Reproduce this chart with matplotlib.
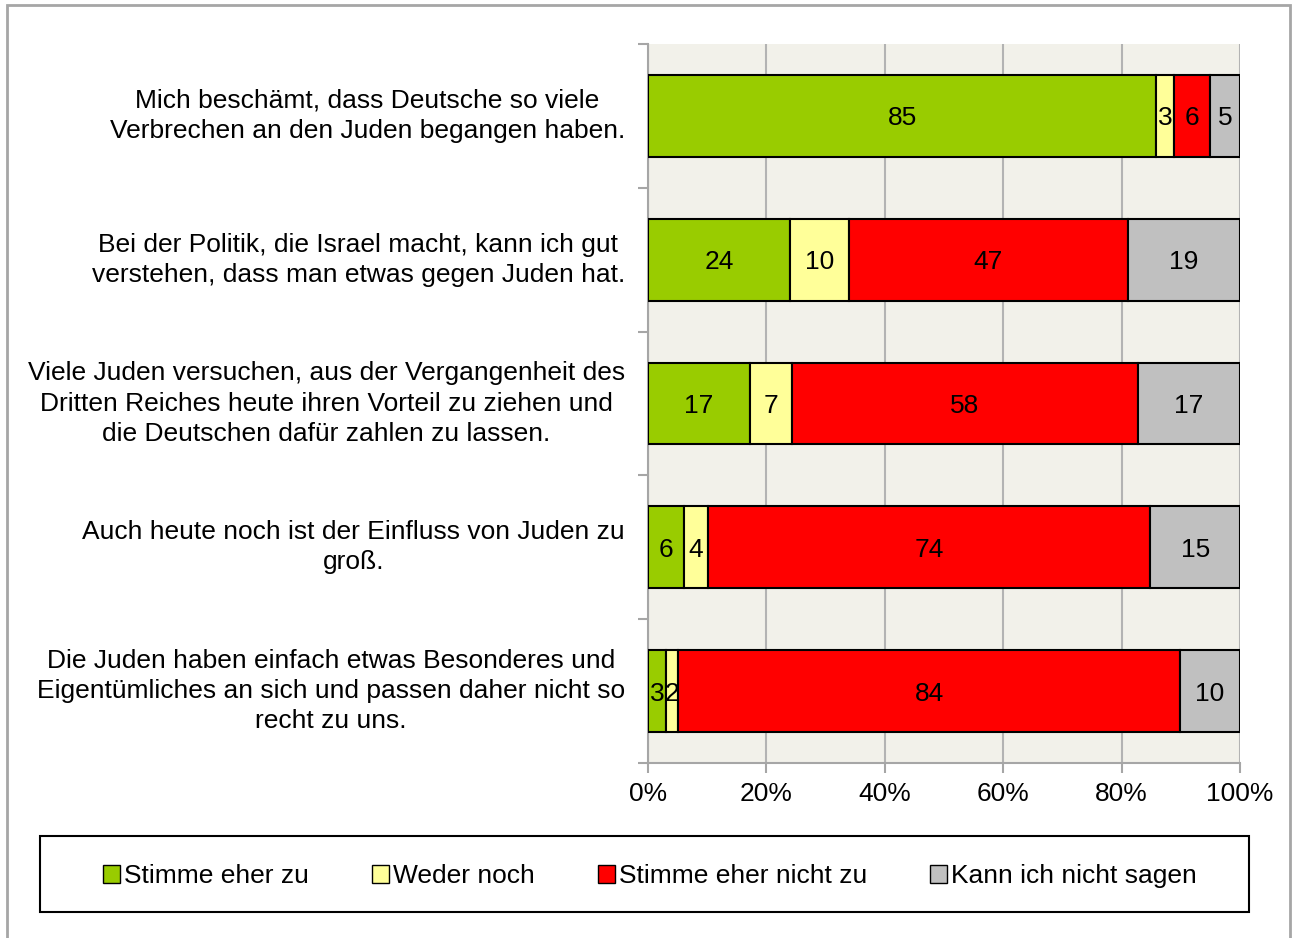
import numpy as np
import matplotlib.pyplot as plt
from matplotlib.patches import Rectangle

plt.rcParams['font.family'] = ['Liberation Sans', 'DejaVu Sans']

statements = [
    'Mich beschämt, dass Deutsche so viele\nVerbrechen an den Juden begangen haben.',
    'Bei der Politik, die Israel macht, kann ich gut\nverstehen, dass man etwas gegen Juden hat.',
    'Viele Juden versuchen, aus der Vergangenheit des\nDritten Reiches heute ihren Vorteil zu ziehen und\ndie Deutschen dafür zahlen zu lassen.',
    'Auch heute noch ist der Einfluss von Juden zu\ngroß.',
    'Die Juden haben einfach etwas Besonderes und\nEigentümliches an sich und passen daher nicht so\nrecht zu uns.',
]
answers = ['Stimme eher zu', 'Weder noch', 'Stimme eher nicht zu', 'Kann ich nicht sagen']
agree = [85, 24, 17, 6, 3]
neither = [3, 10, 7, 4, 2]
disagree = [6, 47, 58, 74, 84]
cant_say = [5, 19, 17, 15, 10]
colors = ['#99CC00', '#FFFF99', '#FF0000', '#C0C0C0']

fs = 19

values = np.array([agree, neither, disagree, cant_say], dtype=float)
shares = values / values.sum(axis=0)  # 100% stacked

fig = plt.figure(figsize=(12.93, 9.38), dpi=100)
ax = fig.add_axes([648 / 1293, 1 - 763 / 938, 592 / 1293, 719 / 938])
ax.set_facecolor('#F2F1EA')

y = np.arange(len(statements))
left = np.zeros(len(statements))
for k in range(len(answers)):
    ax.barh(y, shares[k], left=left, height=0.57, color=colors[k],
            edgecolor='black', linewidth=1.5, label=answers[k], zorder=3)
    for i in range(len(statements)):
        ax.text(left[i] + shares[k][i] / 2, y[i], '%d' % values[k][i],
                ha='center', va='center_baseline', fontsize=fs, zorder=4)
    left += shares[k]

ax.set_xlim(0, 1)
ax.set_ylim(len(statements) - 0.5, -0.5)
ax.set_xticks(np.linspace(0, 1, 6))
ax.set_xticklabels(['0%', '20%', '40%', '60%', '80%', '100%'], fontsize=fs)
ax.grid(axis='x', color='#B3B3B3', linewidth=1.5, zorder=0)

ax.set_yticks(y)
ax.set_yticklabels(statements, fontsize=fs, linespacing=1.33)
for lbl in ax.get_yticklabels():
    lbl.set_multialignment('center')
    lbl.set_verticalalignment('center')
ax.set_yticks(np.arange(-0.5, len(statements)), minor=True)
ax.tick_params(axis='y', which='major', length=0, pad=16.5)
ax.tick_params(axis='y', which='minor', length=7, color='#A6A6A6', width=1.5)
ax.tick_params(axis='x', length=7, color='#A6A6A6', width=1.5, pad=7)

for s in ['top', 'right']:
    ax.spines[s].set_visible(False)
for s in ['left', 'bottom']:
    ax.spines[s].set_color('#A6A6A6')
    ax.spines[s].set_linewidth(1.5)

# legend box along the bottom
fig.patches.append(Rectangle((40 / 1293, 1 - 912 / 938), 1209 / 1293, 76 / 938,
                             transform=fig.transFigure, fill=False,
                             edgecolor='black', linewidth=1.5))
leg = fig.legend(loc='center', bbox_to_anchor=(650 / 1293, 1 - 876 / 938),
                 ncol=4, fontsize=fs, frameon=False,
                 handlelength=0.65, handleheight=0.65, handletextpad=0.15,
                 columnspacing=2.38, borderaxespad=0)
for h in leg.legend_handles:
    h.set_linewidth(1)

# outer chart border
fig.patches.append(Rectangle((7 / 1293, -0.05), 1283 / 1293, 1.05 - 5 / 938,
                             transform=fig.transFigure, fill=False,
                             edgecolor='#A6A6A6', linewidth=2))

fig.savefig('out.png', dpi=100)
